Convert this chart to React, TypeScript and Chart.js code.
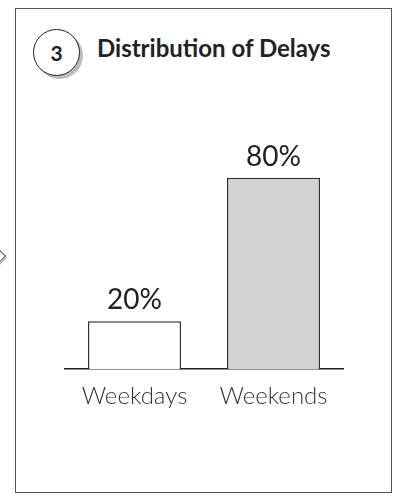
import React, { useEffect, useRef } from "react";
import { Chart, registerables } from "chart.js";

Chart.register(...registerables);

const categories: string[] = ["Weekdays", "Weekends"];
const values: number[] = [20, 80];
const valueLabels: string[] = ["20%", "80%"];
const barFills: string[] = ["#ffffff", "#d3d3d3"];
const titleText = "Distribution of Delays";
const stepNumber = "3";

const FONT = "Lato, 'Open Sans', 'DejaVu Sans', sans-serif";

const valueLabelPlugin = {
  id: "valueLabels",
  afterDatasetsDraw(chart: any) {
    const { ctx } = chart;
    const meta = chart.getDatasetMeta(0);
    ctx.save();
    ctx.font = `400 28px ${FONT}`;
    ctx.fillStyle = "#222";
    ctx.textAlign = "center";
    ctx.textBaseline = "alphabetic";
    meta.data.forEach((bar: any, i: number) => {
      ctx.fillText(valueLabels[i], bar.x, bar.y - 12);
    });
    ctx.restore();
  },
};

export default function App() {
  const canvasRef = useRef<HTMLCanvasElement | null>(null);

  useEffect(() => {
    if (!canvasRef.current) return;
    const chart = new Chart(canvasRef.current, {
      type: "bar",
      data: {
        labels: categories,
        datasets: [
          {
            data: values,
            backgroundColor: barFills,
            borderColor: "#333",
            borderWidth: 1.5,
            barPercentage: 0.67,
            categoryPercentage: 1,
          },
        ],
      },
      options: {
        animation: false,
        responsive: false,
        maintainAspectRatio: false,
        layout: { padding: { left: 65, right: 52, top: 130, bottom: 73 } },
        plugins: {
          legend: { display: false },
          tooltip: { enabled: false },
          title: { display: false },
        },
        scales: {
          x: {
            grid: { display: false, drawTicks: false },
            border: { display: true, color: "#222", width: 1.5 },
            ticks: {
              color: "#333",
              padding: 13,
              font: { family: FONT, size: 24, weight: "300" as any },
            },
          },
          y: {
            display: false,
            min: 0,
            max: 100,
          },
        },
      },
      plugins: [valueLabelPlugin],
    });
    return () => chart.destroy();
  }, []);

  return (
    <div style={{ position: "absolute", left: 0, top: 0, width: 395, height: 497, overflow: "hidden", background: "#fff" }}>
      <div
        style={{
          position: "absolute",
          left: -6,
          top: 251,
          width: 9,
          height: 9,
          borderTop: "1.5px solid #555",
          borderRight: "1.5px solid #555",
          transform: "rotate(45deg)",
          boxShadow: "2px 1px 0 #bbb",
        }}
      />
      <div
        style={{
          position: "absolute",
          left: 15,
          top: 8,
          width: 375,
          height: 483,
          border: "1.5px solid #555",
        }}
      />
      <div
        style={{
          position: "absolute",
          left: 33,
          top: 29,
          width: 45,
          height: 45,
          borderRadius: "50%",
          border: "1.5px solid #222",
          background: "#fff",
          boxShadow: "3px 3px 0 #bdbdbd",
          display: "flex",
          alignItems: "center",
          justifyContent: "center",
          fontFamily: FONT,
          fontWeight: 700,
          fontSize: 21,
          color: "#222",
        }}
      >
        {stepNumber}
      </div>
      <div
        style={{
          position: "absolute",
          left: 97,
          top: 33,
          fontFamily: FONT,
          fontWeight: 700,
          fontSize: 24,
          color: "#222",
          whiteSpace: "nowrap",
        }}
      >
        {titleText}
      </div>
      <canvas ref={canvasRef} width={395} height={497} style={{ position: "absolute", left: 0, top: 0 }} />
    </div>
  );
}
